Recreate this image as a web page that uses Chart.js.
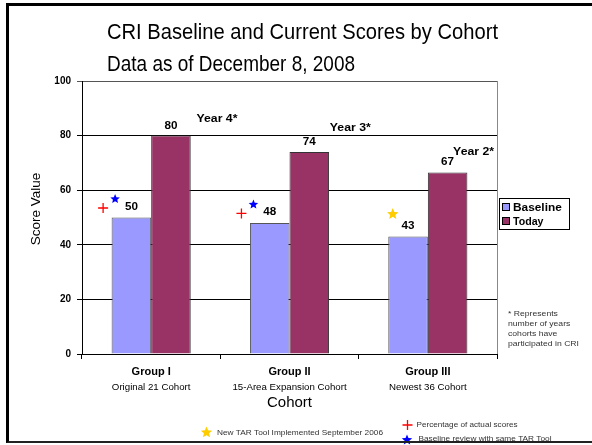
<!DOCTYPE html>
<html>
<head>
<meta charset="utf-8">
<script src="https://cdn.jsdelivr.net/npm/chart.js@4/dist/chart.umd.min.js"></script>
<style>
  body { margin: 0; background: #fff; }
  #wrap { position: relative; width: 592px; height: 445px; }
  #frame { position: absolute; left: 6px; top: 3px; right: 0; bottom: 2px;
           border-left: 3px solid #000; border-top: 3px solid #000; border-bottom: 2px solid #222; pointer-events: none; }
</style>
</head>
<body>
<div id="wrap">
  <canvas id="chart" width="592" height="445"></canvas>
  <div id="frame"></div>
</div>
<script>
// chart data
const cohorts = ['Group I', 'Group II', 'Group III'];
const cohortNames = ['Original 21 Cohort', '15-Area Expansion Cohort', 'Newest 36 Cohort'];
const baseline = [50, 48, 43];
const today = [80, 74, 66.5];
const yearsInCri = ['Year 4*', 'Year 3*', 'Year 2*'];
const actualScores = [true, true, false];   // red cross
const sameTarTool = [true, true, false];    // blue star
const newTarTool = [false, false, true];    // yellow star

const F = '"Liberation Sans", Arial, sans-serif';

// offsets of the "Year n*" labels from the top of each Today bar
const yearOffsets = [[46, -17], [41, -24], [26, -20]];

// the original picture is a little wider than it is tall, so text is stretched to its width
function fitText(ctx, text, x, y, width) {
    const w = ctx.measureText(text).width;
    ctx.save();
    ctx.translate(x, y);
    ctx.scale(width / w, 1);
    ctx.fillText(text, 0, 0);
    ctx.restore();
}

function star(ctx, x, y, r, color) {
    ctx.beginPath();
    for (let i = 0; i < 10; i++) {
        const rad = i % 2 ? r * 0.45 : r;
        const a = -Math.PI / 2 + i * Math.PI / 5;
        ctx.lineTo(x + rad * Math.cos(a), y + rad * Math.sin(a));
    }
    ctx.closePath();
    ctx.fillStyle = color;
    ctx.fill();
}

function cross(ctx, x, y, r, color) {
    ctx.beginPath();
    ctx.moveTo(x - r, y); ctx.lineTo(x + r, y);
    ctx.moveTo(x, y - r); ctx.lineTo(x, y + r);
    ctx.strokeStyle = color;
    ctx.lineWidth = 1.3;
    ctx.stroke();
}

const annotations = {
    id: 'annotations',
    afterDraw(chart) {
        const ctx = chart.ctx;
        const area = chart.chartArea;
        ctx.save();

        // plot area border on the right
        ctx.strokeStyle = '#888';
        ctx.lineWidth = 1;
        ctx.beginPath();
        ctx.moveTo(area.right + 0.5, area.top);
        ctx.lineTo(area.right + 0.5, area.bottom);
        ctx.stroke();

        // titles
        ctx.fillStyle = '#000';
        ctx.textAlign = 'left';
        ctx.textBaseline = 'middle';
        ctx.font = '22px ' + F;
        fitText(ctx, 'CRI Baseline and Current Scores by Cohort', 107, 33, 391);
        fitText(ctx, 'Data as of December 8, 2008', 107, 65, 248);

        // y axis title
        ctx.save();
        ctx.translate(36, 209);
        ctx.rotate(-Math.PI / 2);
        ctx.textAlign = 'center';
        ctx.font = '13.5px ' + F;
        ctx.fillText('Score Value', 0, 0);
        ctx.restore();

        const base = chart.getDatasetMeta(0).data;
        const now = chart.getDatasetMeta(1).data;

        // value labels
        ctx.textAlign = 'center';
        ctx.font = 'bold 11px ' + F;
        base.forEach((b, i) => fitText(ctx, String(Math.round(baseline[i])), b.x, b.y - 11, 13));
        now.forEach((b, i) => fitText(ctx, String(Math.round(today[i])), b.x, b.y - 10, 13));

        // years labels
        now.forEach((b, i) => fitText(ctx, yearsInCri[i], b.x + yearOffsets[i][0], b.y + yearOffsets[i][1], 41));

        // markers next to baseline bars
        base.forEach((b, i) => {
            const left = b.x - b.width / 2;
            if (actualScores[i]) cross(ctx, left - 8.5, b.y - 9.5, 5, '#ff0000');
            if (sameTarTool[i]) star(ctx, left + 3.5, b.y - 18.5, 5, '#0000ff');
            if (newTarTool[i]) star(ctx, left + 4.5, b.y - 22.5, 6, '#ffcc00');
        });

        // legend
        ctx.strokeStyle = '#000';
        ctx.lineWidth = 1;
        ctx.strokeRect(499.5, 198.5, 70, 31);
        ctx.textAlign = 'left';
        ctx.font = 'bold 11px ' + F;
        chart.data.datasets.forEach((ds, i) => {
            const y = 207 + i * 14;
            ctx.fillStyle = ds.backgroundColor;
            ctx.fillRect(502, y - 4, 8, 8);
            ctx.strokeStyle = '#000';
            ctx.strokeRect(502.5, y - 3.5, 7, 7);
            ctx.fillStyle = '#000';
            fitText(ctx, ds.label, 513, y + 0.5, ds.label.length * 6.1);
        });

        // side note
        ctx.fillStyle = '#333';
        ctx.font = '7px ' + F;
        const note = ['* Represents', 'number of years', 'cohorts have', 'participated in CRI'];
        const k = 71 / ctx.measureText(note[3]).width;
        note.forEach((t, i) => fitText(ctx, t, 508, 314 + i * 10, ctx.measureText(t).width * k));

        // bottom notes
        ctx.font = '7.5px ' + F;
        star(ctx, 206.5, 432.5, 6, '#ffcc00');
        ctx.fillStyle = '#333';
        fitText(ctx, 'New TAR Tool Implemented September 2006', 217, 432.5, 166);
        cross(ctx, 407.5, 425, 5, '#ff0000');
        fitText(ctx, 'Percentage of actual scores', 416.5, 425, 101);
        star(ctx, 407, 440, 5.5, '#0000ff');
        ctx.fillStyle = '#333';
        fitText(ctx, 'Baseline review with same TAR Tool', 418.5, 439, 133);

        ctx.restore();
    }
};

new Chart(document.getElementById('chart'), {
    type: 'bar',
    data: {
        labels: cohorts,
        datasets: [
            { label: 'Baseline', data: baseline, backgroundColor: '#9999ff', borderColor: '#555', borderWidth: 1 },
            { label: 'Today', data: today, backgroundColor: '#993366', borderColor: '#333', borderWidth: 1 }
        ]
    },
    options: {
        responsive: false,
        animation: false,
        layout: { padding: { left: 8, right: 95, top: 81, bottom: 31 } },
        datasets: { bar: { categoryPercentage: 0.572, barPercentage: 1 } },
        plugins: { legend: { display: false }, title: { display: false }, tooltip: { enabled: false } },
        scales: {
            x: {
                grid: { drawOnChartArea: false, color: '#000', tickLength: 5 },
                border: { color: '#000' },
                ticks: { color: '#000', padding: 6, font: { family: F, size: 11, weight: 'bold' } },
                afterFit: s => { s.height = 24; }
            },
            x2: {
                type: 'category',
                labels: cohortNames,
                position: 'bottom',
                grid: { display: false, drawTicks: false },
                border: { display: false },
                ticks: { color: '#000', padding: 4, font: { family: F, size: 9.7 } },
                title: { display: true, text: 'Cohort', color: '#000', padding: 2, font: { family: F, size: 15 } },
                afterFit: s => { s.height = 36; }
            },
            y: {
                min: 0,
                max: 100,
                ticks: { stepSize: 20, color: '#000', padding: 6, font: { family: F, size: 10, weight: 'bold' } },
                grid: { color: c => c.tick && c.tick.value === 100 ? '#555' : '#000', tickLength: 5 },
                border: { color: '#000' },
                afterFit: s => { s.width = 74; }
            }
        }
    },
    plugins: [annotations]
});
</script>
</body>
</html>
